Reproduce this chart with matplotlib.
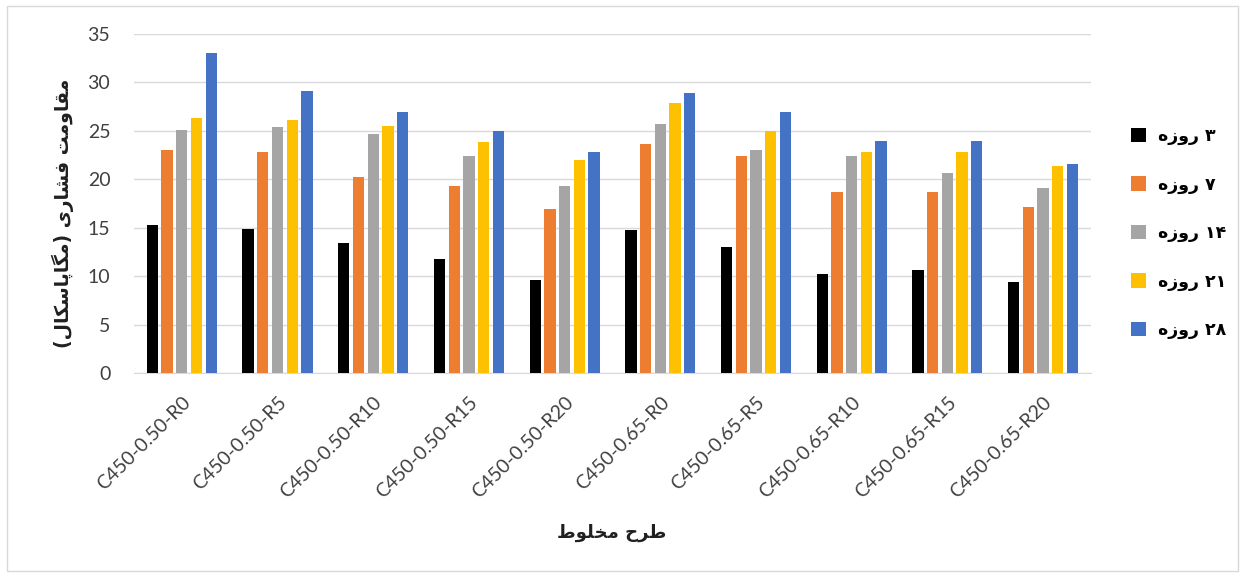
import matplotlib
matplotlib.use("Agg")
import matplotlib.pyplot as plt
from matplotlib.patches import Rectangle
import numpy as np

mixes = ["C450-0.50-R0", "C450-0.50-R5", "C450-0.50-R10", "C450-0.50-R15", "C450-0.50-R20",
         "C450-0.65-R0", "C450-0.65-R5", "C450-0.65-R10", "C450-0.65-R15", "C450-0.65-R20"]

day3 = [15.3, 14.9, 13.4, 11.8, 9.6, 14.8, 13.0, 10.2, 10.6, 9.4]
day7 = [23.0, 22.8, 20.2, 19.3, 16.9, 23.6, 22.4, 18.7, 18.7, 17.1]
day14 = [25.1, 25.4, 24.7, 22.4, 19.3, 25.7, 23.0, 22.4, 20.6, 19.1]
day21 = [26.3, 26.1, 25.5, 23.8, 22.0, 27.9, 25.0, 22.8, 22.8, 21.4]
day28 = [33.0, 29.1, 26.9, 25.0, 22.8, 28.9, 26.9, 24.0, 24.0, 21.6]

series_labels = ["۳ روزه", "۷ روزه", "۱۴ روزه", "۲۱ روزه", "۲۸ روزه"]
colors = ["#000000", "#ED7D31", "#A5A5A5", "#FFC000", "#4472C4"]

y_title = "مقاومت فشاری (مگاپاسکال)"
x_title = "طرح مخلوط"

# --- minimal Persian shaping: contextual forms + right-to-left ordering ---
# (isolated, final, initial, medial)
FORMS = {
    "ا": ("\uFE8D", "\uFE8E", None, None),
    "ب": ("\uFE8F", "\uFE90", "\uFE91", "\uFE92"),
    "پ": ("\uFB56", "\uFB57", "\uFB58", "\uFB59"),
    "ت": ("\uFE95", "\uFE96", "\uFE97", "\uFE98"),
    "ح": ("\uFEA1", "\uFEA2", "\uFEA3", "\uFEA4"),
    "خ": ("\uFEA5", "\uFEA6", "\uFEA7", "\uFEA8"),
    "ر": ("\uFEAD", "\uFEAE", None, None),
    "ز": ("\uFEAF", "\uFEB0", None, None),
    "س": ("\uFEB1", "\uFEB2", "\uFEB3", "\uFEB4"),
    "ش": ("\uFEB5", "\uFEB6", "\uFEB7", "\uFEB8"),
    "ط": ("\uFEC1", "\uFEC2", "\uFEC3", "\uFEC4"),
    "ف": ("\uFED1", "\uFED2", "\uFED3", "\uFED4"),
    "ق": ("\uFED5", "\uFED6", "\uFED7", "\uFED8"),
    "ک": ("\uFB8E", "\uFB8F", "\uFB90", "\uFB91"),
    "گ": ("\uFB92", "\uFB93", "\uFB94", "\uFB95"),
    "ل": ("\uFEDD", "\uFEDE", "\uFEDF", "\uFEE0"),
    "م": ("\uFEE1", "\uFEE2", "\uFEE3", "\uFEE4"),
    "ه": ("\uFEE9", "\uFEEA", "\uFEEB", "\uFEEC"),
    "و": ("\uFEED", "\uFEEE", None, None),
    "ی": ("\uFBFC", "\uFBFD", "\uFBFE", "\uFBFF"),
}
DIGITS = set("0123456789۰۱۲۳۴۵۶۷۸۹")
MIRROR = {"(": ")", ")": "("}


def joins_forward(c):
    return c in FORMS and FORMS[c][2] is not None


def shape(text):
    out = []
    i = 0
    n = len(text)
    while i < n:
        c = text[i]
        prev = text[i - 1] if i > 0 else ""
        nxt = text[i + 1] if i + 1 < n else ""
        if c not in FORMS:
            out.append(c)
            i += 1
            continue
        jp = joins_forward(prev)
        if c == "ل" and nxt == "ا":
            out.append("\uFEFC" if jp else "\uFEFB")
            i += 2
            continue
        jn = joins_forward(c) and nxt in FORMS
        iso, fin, ini, med = FORMS[c]
        if jp and jn:
            out.append(med)
        elif jp:
            out.append(fin)
        elif jn:
            out.append(ini)
        else:
            out.append(iso)
        i += 1
    # visual order: digit runs keep their order, everything else is reversed
    runs = []
    for ch in out:
        kind = ch in DIGITS
        if runs and runs[-1][0] == kind:
            runs[-1][1].append(ch)
        else:
            runs.append((kind, [ch]))
    parts = []
    for kind, chars in reversed(runs):
        if kind:
            parts.append("".join(chars))
        else:
            parts.append("".join(MIRROR.get(ch, ch) for ch in reversed(chars)))
    return "".join(parts)


plt.rcParams["font.family"] = ["Lato", "DejaVu Sans"]
fa_font = ["DejaVu Sans"]

fig = plt.figure(figsize=(12.44, 5.81), dpi=100)
ax = fig.add_axes([0.1077, 0.358, 0.7693, 0.5835])

x = np.arange(len(mixes))
step = 0.1536
width = 0.118
all_series = [day3, day7, day14, day21, day28]
for k, (vals, col, lab) in enumerate(zip(all_series, colors, series_labels)):
    ax.bar(x + (k - 2) * step, vals, width, color=col, label=shape(lab), zorder=3)

ax.set_xlim(-0.5, len(mixes) - 0.5)
ax.set_ylim(0, 35)
ax.set_yticks(np.arange(0, 36, 5))
ax.yaxis.grid(True, color="#d9d9d9", linewidth=1.0, zorder=0)
ax.set_axisbelow(True)
for side in ["top", "right", "left"]:
    ax.spines[side].set_visible(False)
ax.spines["bottom"].set_color("#d9d9d9")
ax.tick_params(axis="both", length=0, labelsize=14, colors="#404040")
ax.tick_params(axis="y", pad=17)

ax.set_xticks(x)
ax.set_xticklabels(mixes, rotation=45, ha="right", rotation_mode="anchor", fontsize=14)
ax.tick_params(axis="x", pad=15)

fig.text(63 / 1244, 1 - 213 / 581, shape(y_title), family=fa_font, fontsize=13.5,
         fontweight="bold", color="#202020", rotation=90, ha="center", va="center")
fig.text(0.492, 1 - 533 / 581, shape(x_title), family=fa_font, fontsize=13,
         fontweight="bold", color="#202020", ha="center", va="center")

leg = ax.legend(loc="center left", bbox_to_anchor=(1.025, 0.413), frameon=False,
                prop={"family": fa_font, "size": 12.5, "weight": "bold"},
                handlelength=0.9, handleheight=0.9, labelspacing=1.75, handletextpad=0.7)

# light frame around the whole chart
fig.patches.append(Rectangle((7 / 1244, 10 / 581), 1231 / 1244, 565 / 581,
                             transform=fig.transFigure, fill=False,
                             edgecolor="#d9d9d9", linewidth=1.0))

fig.savefig("out.png", dpi=100, facecolor="white")
